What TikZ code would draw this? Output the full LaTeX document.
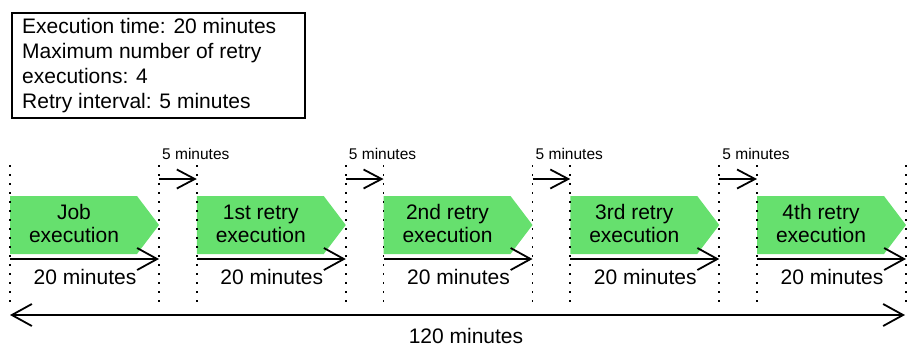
\documentclass[tikz,border=0pt]{standalone}
\usepackage{fontspec}
\setmainfont{Liberation Sans}
\usetikzlibrary{arrows.meta}
\definecolor{jobgreen}{RGB}{102,224,110}
\begin{document}
\begin{tikzpicture}[x=1pt,y=-1pt,
  every node/.style={inner sep=0pt, text=black},
  bigfont/.style={font=\fontsize{21}{23}\selectfont},
  smallfont/.style={font=\fontsize{15.5}{17}\selectfont},
  guide/.style={line width=1.6pt, dash pattern=on 1.6pt off 7.4pt},
  measure/.style={line width=1.8pt, -{Straight Barb[length=20pt,width=22pt]}},
  both/.style={line width=1.8pt, {Straight Barb[length=20pt,width=22pt]}-{Straight Barb[length=20pt,width=22pt]}},
  gap/.style={line width=1.8pt, -{Straight Barb[length=18pt,width=19pt]}},
  jobshape/.style={fill=jobgreen, draw=none}
]
\useasboundingbox (0,0) rectangle (908,346);

% info box
\node[draw, line width=1.6pt, minimum width=293pt, minimum height=105pt, anchor=north west] (info) at (11,12) {};
\node[bigfont, anchor=base west] (i1) at (22,33) {Execution time: 20 minutes};
\node[bigfont, anchor=base west] (i2) at (22,58) {Maximum number of retry};
\node[bigfont, anchor=base west] (i3) at (22,83) {executions: 4};
\node[bigfont, anchor=base west] (i4) at (22,108) {Retry interval: 5 minutes};

% segments
\foreach \i/\lab in {0/Job,1/1st retry,2/2nd retry,3/3rd retry,4/4th retry}{
  \pgfmathsetmacro{\xa}{10+186.75*\i}
  \pgfmathsetmacro{\xb}{\xa+149}
  \pgfmathsetmacro{\xs}{\xa+127}
  \fill[jobshape] (\xa,196) -- (\xs,196) -- (\xb,225) -- (\xs,254) -- (\xa,254) -- cycle;
  \node[bigfont, align=center] (lab\i) at (\xa+64,223.5) {\lab\\execution};
  \coordinate (s\i) at (\xa,259);
  \coordinate (e\i) at (\xb,259);
  \coordinate (st\i) at (\xa,165);
  \coordinate (sb\i) at (\xa,302);
  \coordinate (et\i) at (\xb,165);
  \coordinate (eb\i) at (\xb,302);
  \coordinate (ga\i) at (\xb,179);
  \coordinate (gb\i) at (\xa+186.75,179);
  \draw[guide] (st\i) -- (sb\i);
  \draw[guide] (et\i) -- (eb\i);
  \draw[measure] (s\i) -- (e\i);
  \node[bigfont, anchor=base] (dur\i) at (\xa+75,284) {20 minutes};
  \ifnum\i<4
    \draw[gap] (ga\i) -- (gb\i);
    \node[smallfont, anchor=base west] (gl\i) at (\xb+3,159) {5 minutes};
  \fi
}

% total
\coordinate (t0) at (10,315);
\coordinate (t1) at (905,315);
\draw[both] (t0) -- (t1);
\node[bigfont, anchor=base] (total) at (466,343) {120 minutes};
\end{tikzpicture}
\end{document}
